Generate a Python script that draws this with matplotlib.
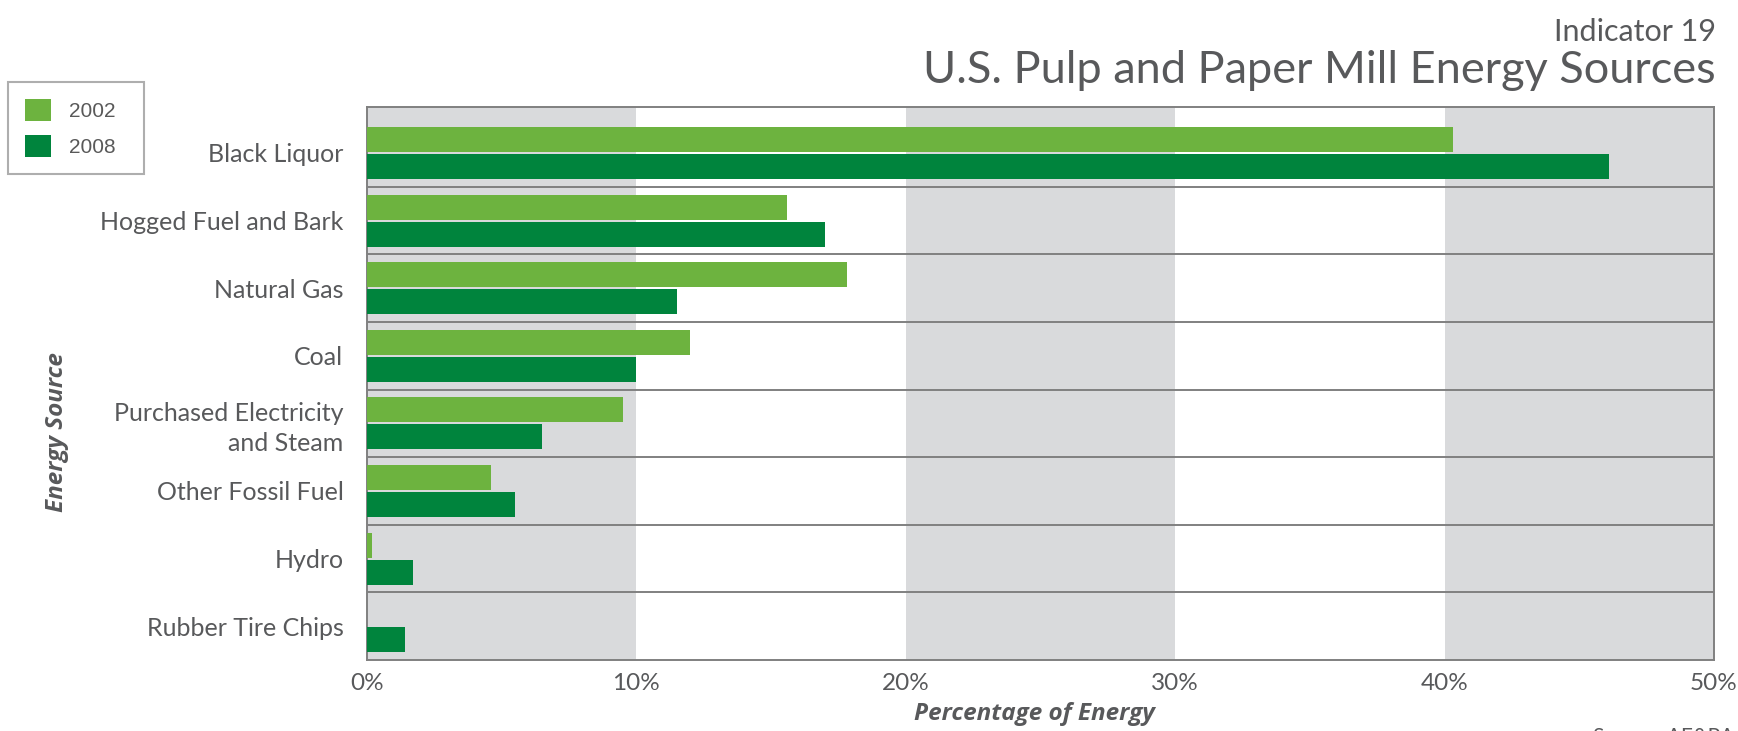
import matplotlib
matplotlib.use("Agg")
import matplotlib.pyplot as plt
from matplotlib.patches import Patch
import numpy as np

categories = ["Black Liquor", "Hogged Fuel and Bark", "Natural Gas", "Coal",
              "Purchased Electricity\nand Steam", "Other Fossil Fuel", "Hydro",
              "Rubber Tire Chips"]
values_2002 = [40.3, 15.6, 17.8, 12.0, 9.5, 4.6, 0.2, 0.0]
values_2008 = [46.1, 17.0, 11.5, 10.0, 6.5, 5.5, 1.7, 1.4]
series_names = ["2002", "2008"]
xticks = [0, 10, 20, 30, 40, 50]
xtick_labels = ["0%", "10%", "20%", "30%", "40%", "50%"]

C2002 = "#6DB33F"
C2008 = "#00843D"
BAND = "#D9DADC"
TXT = "#58595B"
LINE = "#808080"

W, H = 1738, 731
fig = plt.figure(figsize=(W / 100, H / 100), dpi=100)
fig.patch.set_facecolor("white")

ax = fig.add_axes([367 / W, (H - 660) / H, 1347 / W, 553 / H])
y = np.arange(len(categories))
bh = 0.37
off = 0.20
ax.barh(y - off, values_2002, height=bh, color=C2002, zorder=3, label=series_names[0])
ax.barh(y + off, values_2008, height=bh, color=C2008, zorder=3, label=series_names[1])

for a, b in [(0, 10), (20, 30), (40, 50)]:
    ax.axvspan(a, b, color=BAND, zorder=0, lw=0)
for i in range(len(categories) - 1):
    ax.axhline(i + 0.5, color=LINE, lw=1.4, zorder=2)

ax.set_xlim(0, 50)
ax.set_ylim(len(categories) - 0.5, -0.68)
ax.set_yticks(y)
ax.set_yticklabels(categories, fontfamily="Lato", fontsize=18, color=TXT,
                   linespacing=1.35)
ax.set_xticks(xticks)
ax.set_xticklabels(xtick_labels, fontfamily="Lato", fontsize=17.5, color=TXT)
ax.tick_params(axis="both", length=0)
ax.tick_params(axis="y", pad=17)
ax.tick_params(axis="x", pad=9)
for s in ax.spines.values():
    s.set_color(LINE)
    s.set_linewidth(1.4)

fig.text(1034 / W, 1 - 714 / H, "Percentage of Energy", ha="center", va="center",
         fontfamily="Open Sans", fontweight="bold", fontstyle="italic",
         fontsize=17.5, color=TXT)
fig.text(57 / W, 1 - 432 / H, "Energy Source", ha="center", va="center",
         rotation=90, fontfamily="Open Sans", fontweight="bold",
         fontstyle="italic", fontsize=17.5, color=TXT)

fig.text(1716 / W, 1 - 41 / H, "Indicator 19", ha="right", va="baseline",
         fontfamily="Lato", fontsize=22, color=TXT)
fig.text(1716 / W, 1 - 83 / H, "U.S. Pulp and Paper Mill Energy Sources",
         ha="right", va="baseline", fontfamily="Lato", fontsize=32.5, color=TXT)

fig.text(1593 / W, 1 - 727 / H, "Source: AF&PA", ha="left", va="top",
         fontfamily="Lato", fontsize=15, color=TXT)

handles = [Patch(facecolor=C2002, edgecolor="none"),
           Patch(facecolor=C2008, edgecolor="none")]
leg = fig.legend(handles, series_names, loc="upper left",
                 bbox_to_anchor=(8 / W, (H - 174) / H, 136 / W, 92 / H),
                 mode="expand",
                 prop={"family": "Liberation Sans", "size": 15},
                 handlelength=1.25, handleheight=1.25, handletextpad=0.9,
                 labelspacing=0.7, borderpad=0.8, fancybox=False,
                 frameon=True, borderaxespad=0)
leg.get_frame().set_edgecolor("#9A9A9A")
leg.get_frame().set_linewidth(1.5)
for t in leg.get_texts():
    t.set_color("#595959")

fig.savefig("out.png", dpi=100)
